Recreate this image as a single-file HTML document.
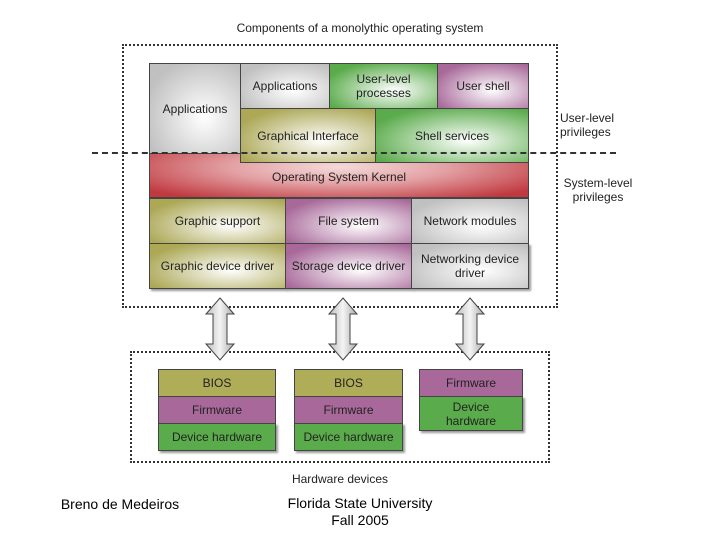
<!DOCTYPE html><html><head><style>
body{margin:0;width:720px;height:540px;background:#fff;font-family:"Liberation Sans",sans-serif;position:relative;overflow:hidden}
.a{position:absolute;box-sizing:border-box;display:flex;align-items:center;justify-content:center;text-align:center;font-size:12px;color:#222;line-height:14px}
.b{border:1px solid #444}
.g{background:radial-gradient(ellipse at 60% 60%,#fff 0%,#c0c0c0 80%)}
.gr{background:radial-gradient(ellipse at 60% 60%,#fff 0%,#5aab4b 80%)}
.m{background:radial-gradient(ellipse at 60% 60%,#fff 0%,#a8699a 80%)}
.o{background:radial-gradient(ellipse at 60% 60%,#fff 0%,#aca856 80%)}
.dot{position:absolute;border:2px dotted #333;box-sizing:border-box}
.sh{box-shadow:2px 2px 2px #999}
</style></head><body>
<div class="a" style="left:150px;top:18px;width:420px;height:20px;font-size:12px">Components of a monolythic operating system</div>
<div class="dot" style="left:122px;top:44px;width:436px;height:264px"></div>
<div class="a" style="left:149px;top:63px;width:380px;height:226px;border:1px solid #444" ></div>
<div class="a b g" style="left:149px;top:63px;width:92px;height:91px">Applications</div>
<div class="a b g" style="left:240px;top:63px;width:90px;height:46px">Applications</div>
<div class="a b gr" style="left:329px;top:63px;width:109px;height:46px">User-level<br>processes</div>
<div class="a b m" style="left:437px;top:63px;width:92px;height:46px">User shell</div>
<div class="a" style="left:149px;top:154px;width:380px;height:44px;background:radial-gradient(ellipse at 50% 30%,#f4dada 0%,#e3a2a5 40%,#c0393f 90%);border-left:1px solid #444;border-right:1px solid #444;border-bottom:1px solid #444;padding-top:2px">Operating System Kernel</div>
<div class="a b o" style="left:240px;top:108px;width:136px;height:55px">Graphical Interface</div>
<div class="a b gr" style="left:375px;top:108px;width:154px;height:55px">Shell services</div>
<div class="a b o" style="left:149px;top:198px;width:137px;height:46px">Graphic support</div>
<div class="a b m" style="left:285px;top:198px;width:127px;height:46px">File system</div>
<div class="a b g" style="left:411px;top:198px;width:118px;height:46px">Network modules</div>
<div class="a b o sh" style="left:149px;top:243px;width:137px;height:46px">Graphic device driver</div>
<div class="a b m sh" style="left:285px;top:243px;width:127px;height:46px">Storage device driver</div>
<div class="a b g sh" style="left:411px;top:243px;width:118px;height:46px">Networking device<br>driver</div>
<div style="position:absolute;left:92px;top:152px;width:524px;border-top:2px dashed #333"></div>
<div class="a" style="left:560px;top:110px;width:70px;height:30px;justify-content:flex-start;text-align:left">User-level<br>privileges</div>
<div class="a" style="left:558px;top:175px;width:80px;height:30px">System-level<br>privileges</div>
<div class="dot" style="left:130px;top:351px;width:420px;height:112px"></div>
<svg style="position:absolute;left:0;top:0" width="720" height="540">
<defs><linearGradient id="ar" x1="0" x2="1"><stop offset="0" stop-color="#bbb"/><stop offset=".5" stop-color="#f4f4f4"/><stop offset="1" stop-color="#aaa"/></linearGradient></defs>
<g fill="url(#ar)" stroke="#444" stroke-width="1">
<path d="M220 298 L234 314 L227 314 L227 344 L234 344 L220 360 L206 344 L213 344 L213 314 L206 314 Z"/>
<path d="M343 298 L357 314 L350 314 L350 344 L357 344 L343 360 L329 344 L336 344 L336 314 L329 314 Z"/>
<path d="M470 298 L484 314 L477 314 L477 344 L484 344 L470 360 L456 344 L463 344 L463 314 L456 314 Z"/>
</g></svg>
<div class="a b" style="left:158px;top:369px;width:118px;height:28px;background:#b0ad58">BIOS</div>
<div class="a b" style="left:158px;top:396px;width:118px;height:28px;background:#a8699a">Firmware</div>
<div class="a b sh" style="left:158px;top:423px;width:118px;height:28px;background:#5aab4b">Device hardware</div>
<div class="a b" style="left:294px;top:369px;width:109px;height:28px;background:#b0ad58">BIOS</div>
<div class="a b" style="left:294px;top:396px;width:109px;height:28px;background:#a8699a">Firmware</div>
<div class="a b sh" style="left:294px;top:423px;width:109px;height:28px;background:#5aab4b">Device hardware</div>
<div class="a b" style="left:419px;top:369px;width:104px;height:28px;background:#a8699a">Firmware</div>
<div class="a b sh" style="left:419px;top:396px;width:104px;height:35px;background:#5aab4b">Device<br>hardware</div>
<div class="a" style="left:260px;top:471px;width:160px;height:16px">Hardware devices</div>
<div class="a" style="left:40px;top:495px;width:160px;height:18px;font-size:14px;color:#000">Breno de Medeiros</div>
<div class="a" style="left:270px;top:494px;width:180px;height:36px;font-size:14px;color:#000;line-height:17px">Florida State University<br>Fall 2005</div>
</body></html>
